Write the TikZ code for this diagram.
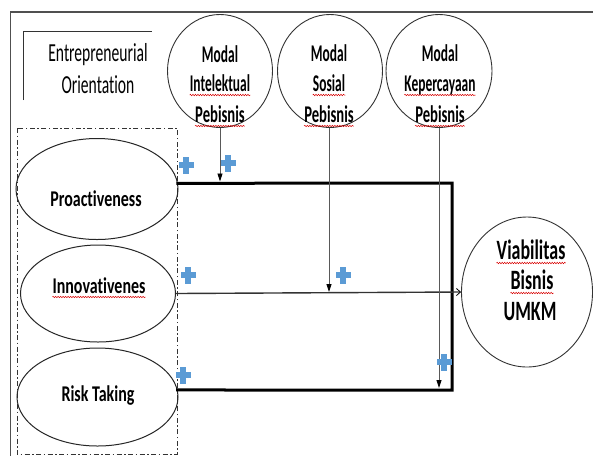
\documentclass[tikz,border=0pt]{standalone}
\usepackage{fontspec}
\setmainfont{Carlito}[RawFeature={-liga}]
\usetikzlibrary{arrows.meta,decorations.pathmorphing,shapes.geometric}
\newcommand{\sqz}[2][0.56]{\scalebox{#1}[1]{#2}}
\definecolor{pluscol}{HTML}{5B9BD5}
\definecolor{framecol}{HTML}{505050}
\begin{document}
\begin{tikzpicture}[x=1pt,y=-1pt,
  txt/.style={inner sep=0pt,anchor=base},
  ctext/.style={txt,font=\fontsize{24}{24}\selectfont\bfseries},
  etext/.style={txt,font=\fontsize{22.5}{22}\selectfont\bfseries},
  vtext/.style={txt,font=\fontsize{28}{28}\selectfont\bfseries},
  otext/.style={txt,font=\fontsize{26}{26}\selectfont},
  circ/.style={draw=black!80,line width=0.9pt,ellipse,inner sep=0pt},
  ell/.style={draw=black!85,line width=1pt,ellipse,inner sep=0pt},
  thickln/.style={line width=3pt,line cap=rect},
  varrow/.style={draw=black!65,line width=0.9pt,-{Triangle[length=8pt,width=5pt,color=black]}},
  harrow/.style={draw=black!80,line width=1.4pt,-{Straight Barb[length=4pt,width=7pt,line width=0.8pt,color=black]}},
  squig/.style={draw=red!85!black,line width=0.5pt,decorate,decoration={snake,segment length=2.5pt,amplitude=0.7pt}},
  plus/.pic={\fill[pluscol] (-7.5,-2.8) rectangle (7.5,2.8); \fill[pluscol] (-2.8,-8.5) rectangle (2.8,8.5);}
]
\useasboundingbox (0,0) rectangle (593,456);
\fill[white] (0,0) rectangle (593,456);

% outer frame
\draw[framecol,line width=1.6pt] (10.5,456) -- (10.5,12) -- (593,12);
% bracket
\draw[black!80,line width=1pt] (23,100) -- (23,31) -- (152,31);
\node[otext] (eo1) at (98,61) {\sqz[0.6]{Entrepreneurial}};
\node[otext] (eo2) at (98,93) {\sqz[0.6]{Orientation}};

% top circles
\node[circ,minimum width=105pt,minimum height=113pt] (c1) at (220,71) {};
\node[circ,minimum width=105pt,minimum height=113pt] (c2) at (330,71) {};
\node[circ,minimum width=106pt,minimum height=113pt] (c3) at (439,71) {};

\node[ctext] (c1a) at (220,62) {\sqz{Modal}};
\node[ctext] (c1b) at (220,91) {\sqz{Intelektual}};
\node[ctext] (c1c) at (220,122) {\sqz[0.61]{Pebisnis}};
\node[ctext] (c2a) at (329,61) {\sqz{Modal}};
\node[ctext] (c2b) at (329,91) {\sqz{Sosial}};
\node[ctext] (c2c) at (329,122) {\sqz[0.61]{Pebisnis}};
\node[ctext] (c3a) at (440,61) {\sqz{Modal}};
\node[ctext] (c3b) at (440,91) {\sqz{Kepercayaan}};
\node[ctext] (c3c) at (440,122) {\sqz[0.61]{Pebisnis}};

% dash-dot box
\draw[black!80,line width=0.9pt,dash pattern=on 5pt off 2.5pt on 1.5pt off 2.5pt] (17,128) rectangle (177,454);

% ellipses
\node[ell,minimum width=162pt,minimum height=101pt] (pro) at (97,189) {};
\node[ell,minimum width=155pt,minimum height=97pt] (inn) at (98,293.5) {};
\node[ell,minimum width=161pt,minimum height=98pt] (risk) at (97.5,397) {};
\node[etext] (protx) at (96,206) {\sqz[0.71]{Proactiveness}};
\node[etext] (inntx) at (99,293) {\sqz[0.71]{Innovativenes}};
\node[etext] (risktx) at (98,401) {\sqz[0.71]{Risk Taking}};

% outcome
\node[circ,minimum width=131pt,minimum height=150pt] (via) at (527,292) {};
\node[vtext] (via1) at (531,259) {\sqz[0.64]{Viabilitas}};
\node[vtext] (via2) at (532,289) {\sqz[0.64]{Bisnis}};
\node[vtext] (via3) at (530,320) {\sqz[0.64]{UMKM}};

% thick frame connector
\coordinate (tr) at (452,183);
\coordinate (br) at (452,390);
\draw[thickln] (pro.4) -- (tr) -- (br) -- (risk.5);

% innovativeness arrow
\draw[harrow] (inn.east) -- (via.west);

% moderator arrows
\coordinate (m1) at (c1.south |- tr);
\coordinate (m2) at (329,293);
\coordinate (m3) at (439,389);
\draw[varrow] (c1.south) -- ([yshift=1.5pt]m1);
\draw[varrow] (c2.south -| m2) -- ([yshift=1pt]m2);
\draw[varrow] (c3.south) -- ([yshift=1pt]m3);

% plus signs
\pic at (186,165) {plus};
\pic at (228,163) {plus};
\pic at (188,275) {plus};
\pic at (343,275) {plus};
\pic at (183,375) {plus};
\pic at (444,362) {plus};

% spell-check underlines
\foreach \n in {c1b,c1c,c2b,c2c,c3b,c3c,inntx,via1,via2}{
  \draw[squig] ([yshift=-4pt]\n.base west) -- ([yshift=-4pt]\n.base east);
}
\end{tikzpicture}
\end{document}
